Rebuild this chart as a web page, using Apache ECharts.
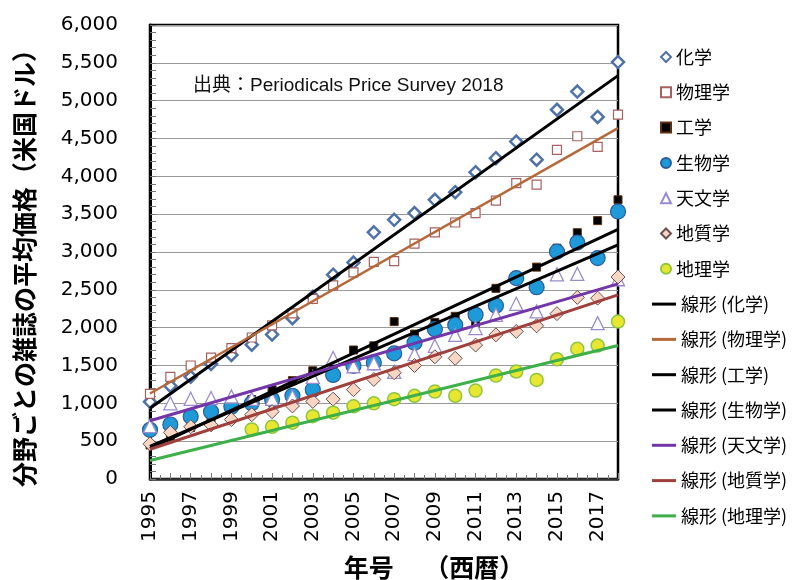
<!DOCTYPE html>
<html><head><meta charset="utf-8">
<script src="https://cdn.jsdelivr.net/npm/echarts@6/dist/echarts.min.js"></script>
<style>html,body{margin:0;padding:0;background:#fff}#c{width:792px;height:580px}</style>
</head><body><div id="c"></div>
<script>
const years = [1995,1996,1997,1998,1999,2000,2001,2002,2003,2004,2005,2006,2007,2008,2009,2010,2011,2012,2013,2014,2015,2016,2017,2018];
const chemistry = [1020,1230,1350,1520,1640,1775,1910,2125,2410,2700,2860,3260,3425,3515,3690,3790,4055,4240,4460,4220,4880,5120,4785,5510];
const physics = [1125,1350,1500,1605,1730,1870,2030,2190,2380,2560,2730,2870,2880,3110,3260,3390,3515,3680,3910,3890,4350,4530,4390,4815];
const engineering = [450,560,680,800,930,1050,1180,1300,1430,1520,1705,1760,2080,1915,2070,2150,2060,2520,2680,2800,3050,3255,3415,3690];
const biology = [650,720,825,890,955,1000,1050,1100,1180,1375,1495,1540,1660,1800,1980,2035,2170,2290,2655,2535,3005,3125,2920,3535];
const astronomy = [700,1000,1060,1070,1090,1060,1060,1090,1350,1600,1490,1530,1415,1650,1760,1905,1995,2170,2315,2215,2705,2710,2060,2640];
const geology = [465,615,690,715,785,850,890,965,1025,1055,1180,1315,1405,1500,1615,1595,1770,1905,1950,2025,2185,2400,2390,2670];
const geography = [null,null,null,null,null,655,690,745,830,877,960,1000,1055,1100,1155,1100,1168,1367,1420,1310,1583,1720,1764,2081];
// trend line values read at 1995 and 2018
const trendYears = [1995, 2018];
const trendChemistry = [935, 5331];
const trendPhysics = [1130, 4638];
const trendEngineering = [405, 3300];
const trendBiology = [430, 3095];
const trendAstronomy = [770, 2579];
const trendGeology = [393, 2434];
const trendGeography = [245, 1764];
const yTicks = [0,500,1000,1500,2000,2500,3000,3500,4000,4500,5000,5500,6000];

const pair = (xs, vs) => xs.map((x,i) => [x, vs[i]]);
const CJK = '"Noto Sans CJK JP", sans-serif';

function scatter(name, vals, symbol, size, fill, stroke, bw) {
  return {name, type:'scatter', data: pair(years, vals).filter(d => d[1] !== null),
    symbol, symbolSize: size, z: 2,
    itemStyle:{color: fill, borderColor: stroke, borderWidth: bw, opacity:1}};
}
function trend(name, vals, color, w) {
  return {name, type:'line', data: pair(trendYears, vals), symbol:'none', z: 3,
    lineStyle:{color, width:w}, itemStyle:{color}};
}
const scatterNames = ['化学','物理学','工学','生物学','天文学','地質学','地理学'];
const trendNames = ['線形 (化学)','線形 (物理学)','線形 (工学)','線形 (生物学)','線形 (天文学)','線形 (地質学)','線形 (地理学)'];
const legendText = {fontSize:18, color:'#000', fontFamily:CJK};

const chart = echarts.init(document.getElementById('c'), null, {renderer:'canvas'});
chart.setOption({
  animation:false,
  backgroundColor:'#fff',
  title:{text:'出典：Periodicals Price Survey 2018', left:188, top:71,
    textStyle:{fontSize:19, fontWeight:'normal', color:'#111', fontFamily:'"Liberation Sans", "Noto Sans CJK JP", sans-serif'}},
  grid:{left:150, right:174, top:25, bottom:101, show:true, borderColor:'#000', borderWidth:2.5, outerBoundsMode:'none', containLabel:false},
  legend:[
    {data:scatterNames, orient:'vertical', left:655, top:43, itemWidth:10, itemHeight:10, itemGap:17.3, textStyle:legendText},
    {data:trendNames, orient:'vertical', left:647, top:43 + 7*35.3, icon:'rect', itemWidth:24, itemHeight:3, itemGap:17.3, textStyle:legendText}
  ],
  xAxis:{type:'value', min:1995, max:2018, interval:1,
    name:'年号　 （西暦）', nameLocation:'middle', nameGap:76,
    nameTextStyle:{fontSize:25, fontWeight:'bold', color:'#000', fontFamily:CJK, padding:[0,0,0,100]},
    axisLine:{show:true, lineStyle:{color:'#333', width:2.5}},
    axisTick:{show:true, inside:true, length:6, lineStyle:{color:'#777'}},
    minorTick:{show:true, splitNumber:2, length:4, lineStyle:{color:'#777'}},
    splitLine:{show:false},
    axisLabel:{rotate:90, margin:12, fontSize:20, color:'#000', fontFamily:'"DejaVu Sans", sans-serif',
      formatter: v => (v % 2 === 1 ? String(v) : '')}},
  yAxis:{type:'value', min:yTicks[0], max:yTicks[yTicks.length-1], interval:500,
    name:'分野ごとの雑誌の平均価格（米国ドル）', nameLocation:'middle', nameGap:113,
    nameTextStyle:{fontSize:25, fontWeight:'bold', color:'#000', fontFamily:CJK, padding:[0,20,0,0]},
    axisLine:{show:true, lineStyle:{color:'#000', width:3}},
    axisTick:{show:true, inside:true, length:6, lineStyle:{color:'#777'}},
    minorTick:{show:true, splitNumber:5, length:6, lineStyle:{color:'#777'}},
    splitLine:{show:true, lineStyle:{color:'#999', width:1.2}},
    axisLabel:{margin:32, fontSize:20, color:'#000', fontFamily:'"DejaVu Sans", sans-serif',
      formatter: v => v.toLocaleString('en-US')}},
  series:[
    scatter('化学', chemistry, 'diamond', 12, '#fff', '#4F72A8', 2.5),
    scatter('物理学', physics, 'rect', 9, '#fff', '#A86060', 1.2),
    scatter('工学', engineering, 'rect', 8, '#000', '#5a3010', 1),
    scatter('生物学', biology, 'circle', 15, '#1E9AD8', '#2D5C9C', 1.2),
    scatter('天文学', astronomy, 'triangle', 13, '#fff', '#9A8CCC', 1.3),
    scatter('地質学', geology, 'diamond', 14, '#F8D6C4', '#6a5050', 1),
    scatter('地理学', geography, 'circle', 13, '#E8E630', '#8CC63F', 1.5),
    trend('線形 (化学)', trendChemistry, '#000', 3),
    trend('線形 (物理学)', trendPhysics, '#B5693A', 2.5),
    trend('線形 (工学)', trendEngineering, '#000', 3),
    trend('線形 (生物学)', trendBiology, '#000', 3),
    trend('線形 (天文学)', trendAstronomy, '#7336A8', 3),
    trend('線形 (地質学)', trendGeology, '#A0403C', 3),
    trend('線形 (地理学)', trendGeography, '#3DB04A', 3)
  ]
});
</script></body></html>
